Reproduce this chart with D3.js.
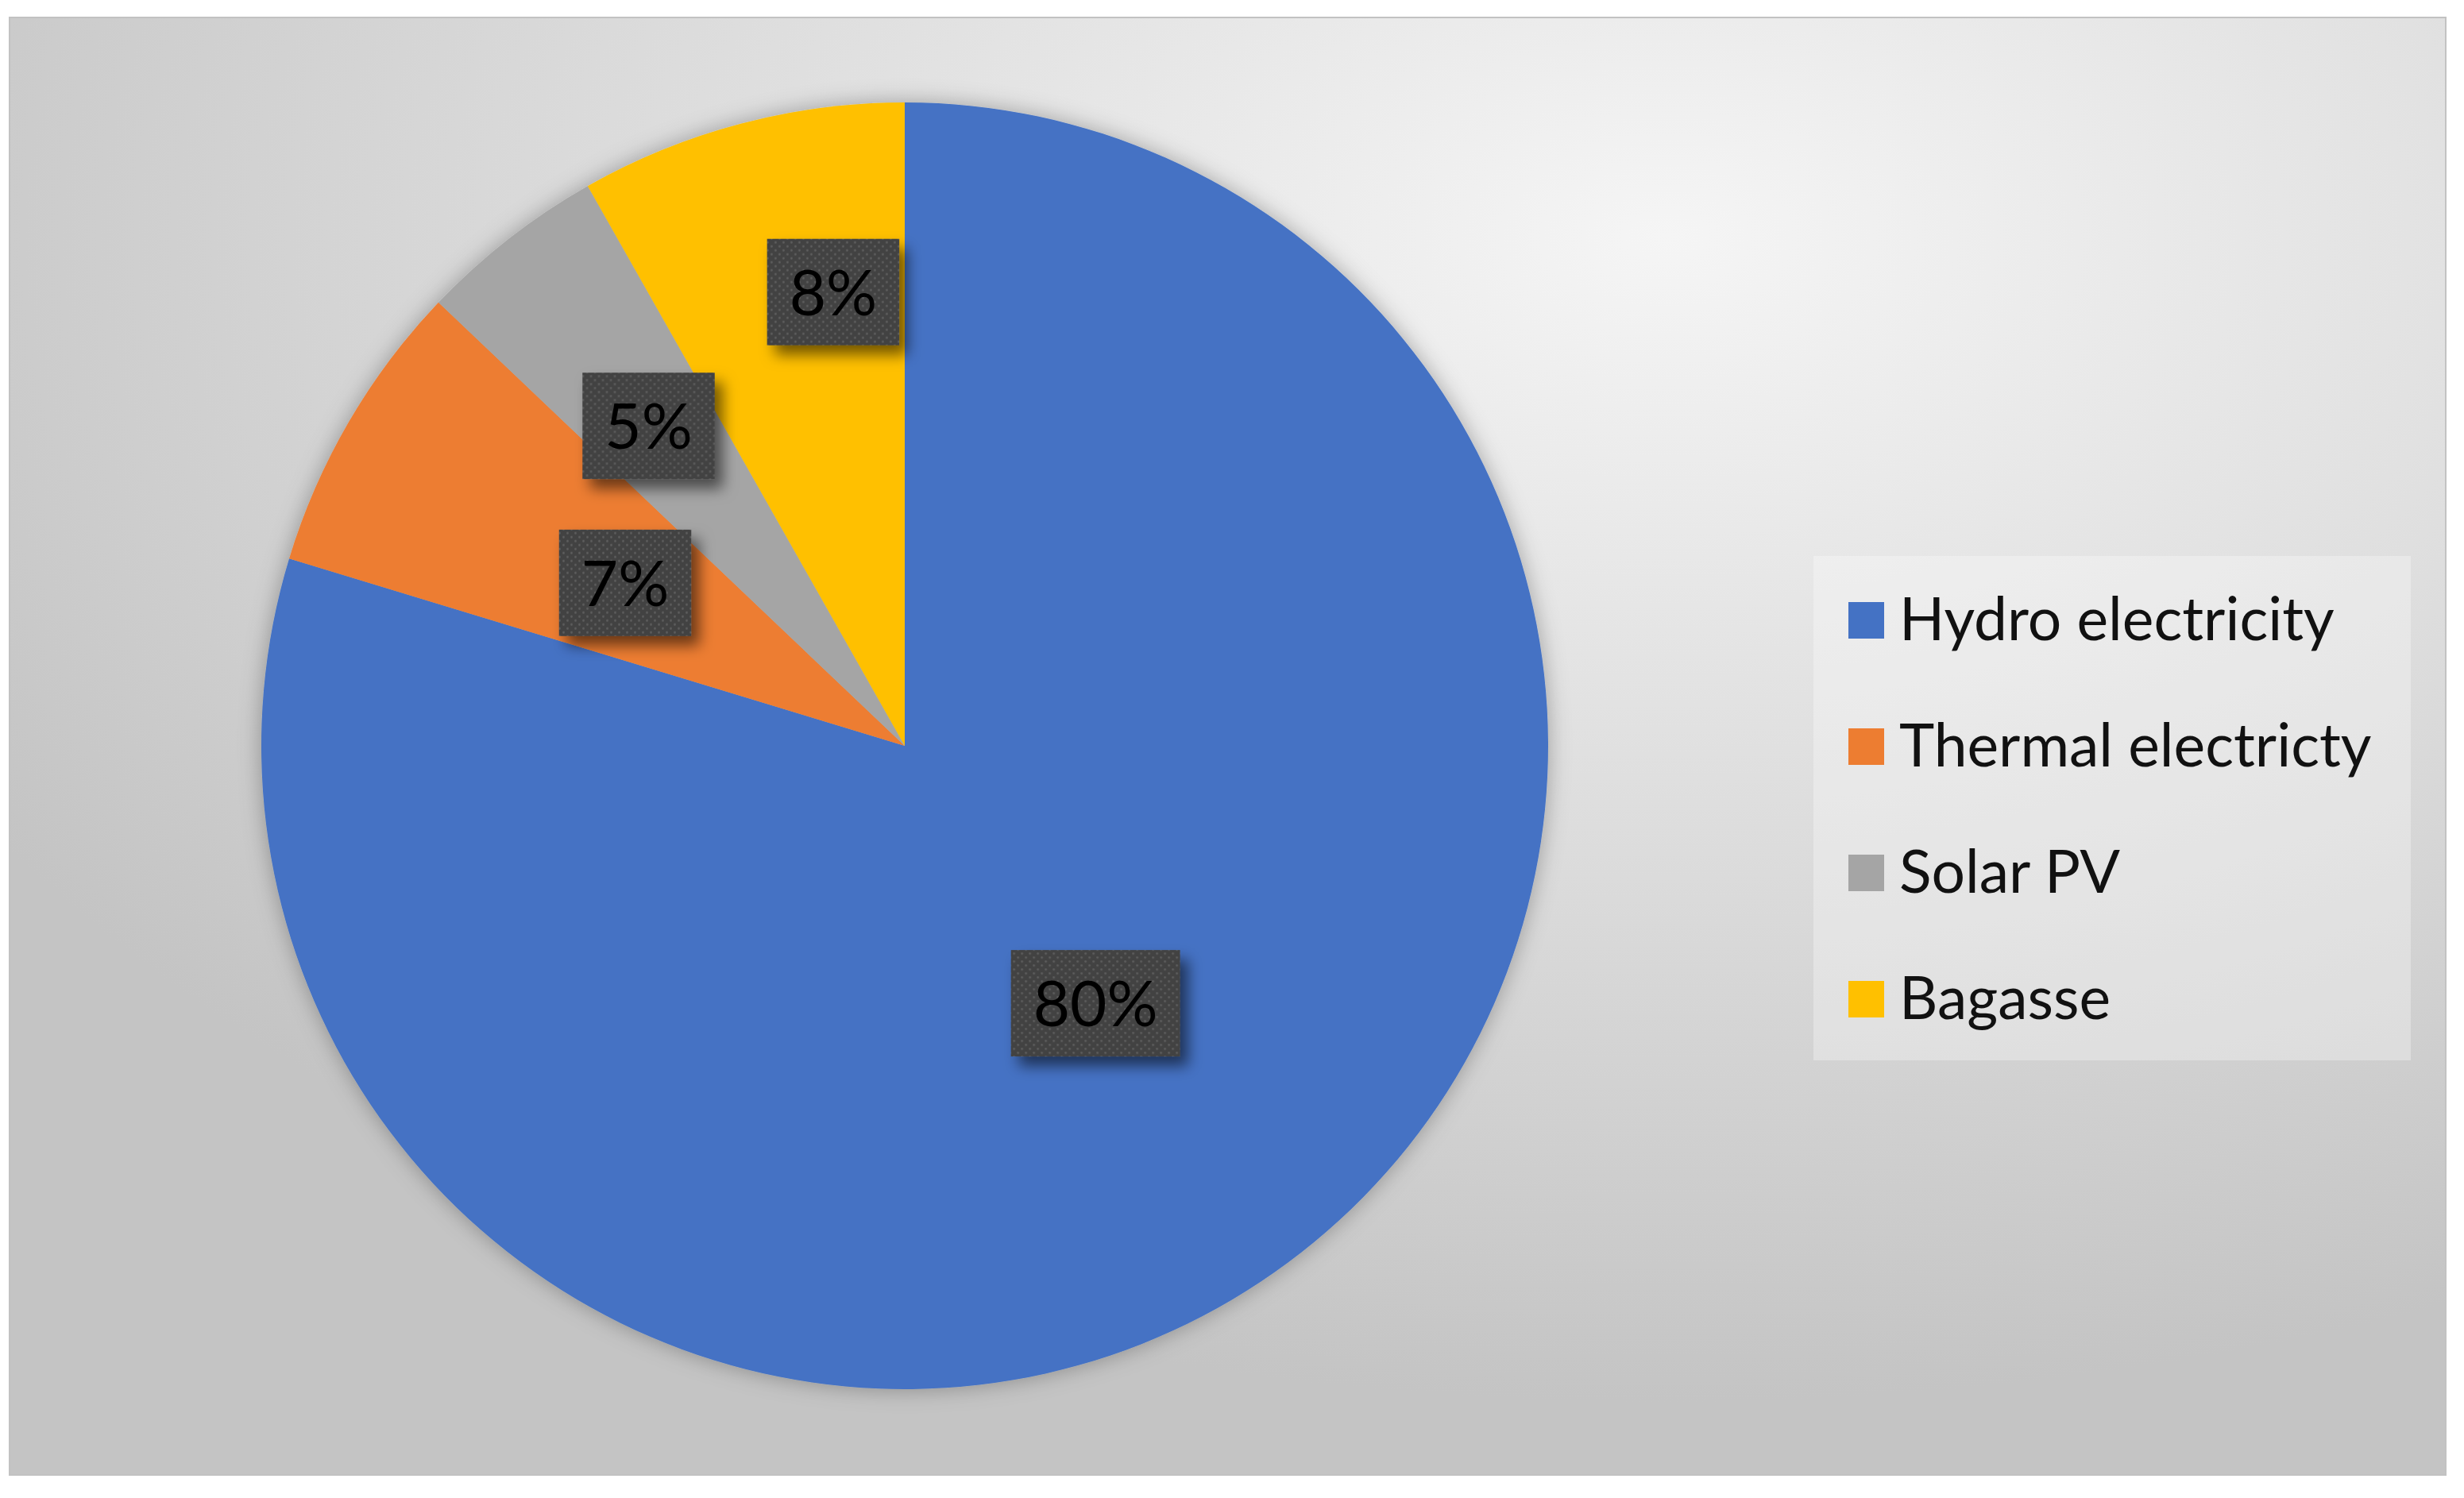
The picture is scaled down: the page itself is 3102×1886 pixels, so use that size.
<!doctype html>
<html lang="en">
<head>
    <meta charset="UTF-8">
    <title>Electricity generation mix</title>
    <script src="https://d3js.org/d3.v7.min.js"></script>
    <style>
        body { margin: 0; background: #fff; }
        text { font-family: Lato, "Noto Sans", sans-serif; }
    </style>
</head>
<body>
<div id="chart"></div>

<script>

    //chart data (shares in %)
    const categories = ["Hydro electricity", "Thermal electricty", "Solar PV", "Bagasse"];
    const shares = [79.7, 7.4, 4.7, 8.2];
    const colors = ["#4472C4", "#ED7D31", "#A5A5A5", "#FFC000"];

    //where each data label sits (fraction of radius) and a small angle nudge in degrees
    const labelRadius = [0.498, 0.503, 0.637, 0.714];
    const labelNudge = [0, 0, -0.7, 5.8];

    let width = 3102, height = 1886;
    let cx = 1139, cy = 939, radius = 810;

    let svg = d3.select("#chart").append("svg")
        .attr("width", width)
        .attr("height", height);

    let defs = svg.append("defs");

    //background radial gradient
    let bg = defs.append("radialGradient")
        .attr("id", "bg")
        .attr("cx", 0.68).attr("cy", 0.15).attr("r", 0.8)
        .attr("fx", 0.68).attr("fy", 0.15);
    bg.append("stop").attr("offset", 0).attr("stop-color", "#f5f5f5");
    bg.append("stop").attr("offset", 0.55).attr("stop-color", "#dbdbdb");
    bg.append("stop").attr("offset", 1).attr("stop-color", "#c4c4c4");

    //pie shadow
    let pieShadow = defs.append("filter").attr("id", "pieShadow")
        .attr("x", "-10%").attr("y", "-10%").attr("width", "120%").attr("height", "120%");
    pieShadow.append("feDropShadow")
        .attr("dx", 0).attr("dy", 0).attr("stdDeviation", 14)
        .attr("flood-color", "#000").attr("flood-opacity", 0.3);

    //label box shadow
    let boxShadow = defs.append("filter").attr("id", "boxShadow")
        .attr("x", "-30%").attr("y", "-30%").attr("width", "170%").attr("height", "170%");
    boxShadow.append("feDropShadow")
        .attr("dx", 10).attr("dy", 12).attr("stdDeviation", 9)
        .attr("flood-color", "#000").attr("flood-opacity", 0.55);

    //dotted texture for data labels
    let dots = defs.append("pattern")
        .attr("id", "dots")
        .attr("patternUnits", "userSpaceOnUse")
        .attr("width", 10).attr("height", 10);
    dots.append("rect").attr("width", 10).attr("height", 10).attr("fill", "#434343");
    dots.append("circle").attr("cx", 2.5).attr("cy", 2.5).attr("r", 1.4).attr("fill", "#5c5c5c");
    dots.append("circle").attr("cx", 7.5).attr("cy", 7.5).attr("r", 1.4).attr("fill", "#5c5c5c");

    //chart area
    svg.append("rect")
        .attr("x", 12).attr("y", 22)
        .attr("width", 3067).attr("height", 1835)
        .attr("fill", "url(#bg)")
        .attr("stroke", "#c2c2c2")
        .attr("stroke-width", 2);

    let pie = d3.pie()
        .sort(null)
        .value(function (d) { return d; });

    let arc = d3.arc()
        .innerRadius(0)
        .outerRadius(radius);

    let arcs = pie(shares);
    let total = d3.sum(shares);

    let g = svg.append("g")
        .attr("transform", "translate(" + cx + "," + cy + ")");

    //slices
    g.append("g")
        .attr("filter", "url(#pieShadow)")
        .selectAll("path")
        .data(arcs)
        .enter()
        .append("path")
        .attr("d", arc)
        .attr("fill", function (d, i) { return colors[i]; });

    //data labels
    let labels = g.selectAll(".label")
        .data(arcs)
        .enter()
        .append("g")
        .attr("class", "label")
        .attr("transform", function (d, i) {
            let a = (d.startAngle + d.endAngle) / 2 + labelNudge[i] * Math.PI / 180;
            let r = radius * labelRadius[i];
            return "translate(" + (r * Math.sin(a)) + "," + (-r * Math.cos(a)) + ")";
        });

    let fmt = d3.format(".0%");

    let labelText = labels.append("text")
        .attr("text-anchor", "middle")
        .attr("dy", "0.36em")
        .attr("font-size", 80)
        .attr("fill", "#000")
        .text(function (d) { return fmt(d.value / total); });

    labels.insert("rect", "text")
        .each(function (d, i) {
            let w = labelText.nodes()[i].getComputedTextLength();
            d3.select(this)
                .attr("x", -w / 2 - 28)
                .attr("y", -67)
                .attr("width", w + 56)
                .attr("height", 134);
        })
        .attr("fill", "url(#dots)")
        .attr("filter", "url(#boxShadow)");

    //legend
    let legend = svg.append("g")
        .attr("transform", "translate(2283,700)");

    legend.append("rect")
        .attr("width", 752)
        .attr("height", 635)
        .attr("fill", "#fff")
        .attr("fill-opacity", 0.3);

    let item = legend.selectAll(".item")
        .data(categories)
        .enter()
        .append("g")
        .attr("class", "item")
        .attr("transform", function (d, i) { return "translate(0," + (81 + i * 159) + ")"; });

    item.append("rect")
        .attr("x", 44)
        .attr("y", -23)
        .attr("width", 45)
        .attr("height", 46)
        .attr("fill", function (d, i) { return colors[i]; });

    item.append("text")
        .attr("x", 108)
        .attr("y", 25)
        .attr("font-size", 75)
        .attr("fill", "#111")
        .text(function (d) { return d; });

</script>
</body>
</html>
